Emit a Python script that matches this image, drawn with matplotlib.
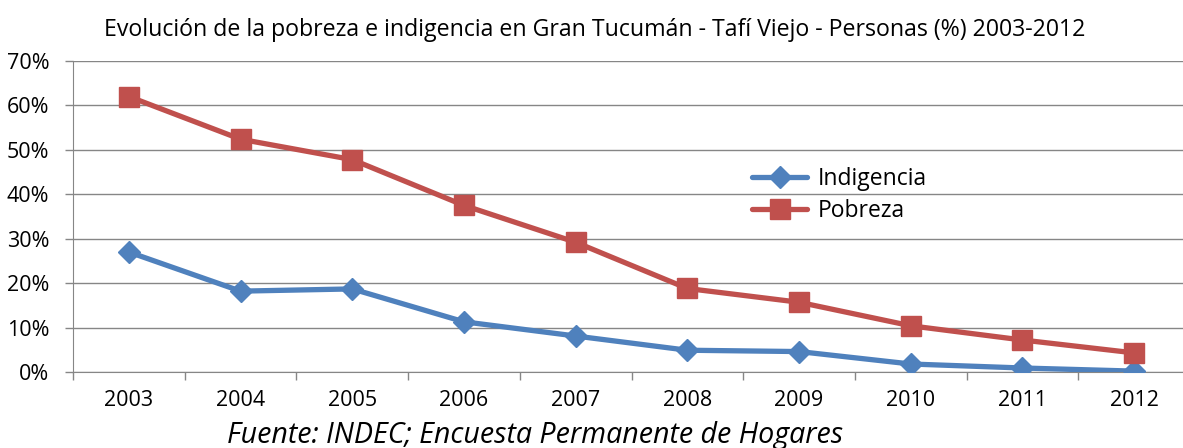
import matplotlib
matplotlib.use("Agg")
import matplotlib.pyplot as plt
from matplotlib.ticker import FixedLocator, PercentFormatter

# %% Data
years = ["2003", "2004", "2005", "2006", "2007", "2008", "2009", "2010", "2011", "2012"]
indigencia = [27.0, 18.2, 18.7, 11.3, 8.1, 4.9, 4.6, 1.8, 0.9, 0.2]
pobreza = [62.0, 52.4, 47.8, 37.5, 29.2, 18.8, 15.7, 10.4, 7.2, 4.3]

plt.rcParams["font.family"] = ["Open Sans", "DejaVu Sans"]

W, H = 1183, 448
fig = plt.figure(figsize=(W / 100, H / 100), dpi=100)
left, right, top, bottom = 73, W, 61, 372
ax = fig.add_axes([left / W, 1 - bottom / H, (right - left) / W, (bottom - top) / H])

x = range(len(years))
ax.plot(x, indigencia, color="#4F81BD", lw=3.8, marker="D", ms=11,
        solid_capstyle="round", label="Indigencia", zorder=3)
ax.plot(x, pobreza, color="#C0504D", lw=3.8, marker="s", ms=14,
        solid_capstyle="round", label="Pobreza", zorder=3)

ax.set_ylim(0, 70)
ax.set_yticks(range(0, 71, 10))
ax.yaxis.set_major_formatter(PercentFormatter(decimals=0))
cat_w = (right - left) / 111.7
ax.set_xlim(-0.5, -0.5 + cat_w)
ax.set_xticks(list(x))
ax.set_xticklabels(years)
ax.xaxis.set_minor_locator(FixedLocator([i - 0.5 for i in range(11)]))
ax.tick_params(axis="x", which="major", length=0, pad=13, labelsize=15.5)
ax.tick_params(axis="x", which="minor", length=6, color="#868686", width=1)
ax.tick_params(axis="y", length=6, color="#868686", width=1, labelsize=15.5, pad=11)

ax.grid(axis="y", color="#868686", lw=1)
ax.set_axisbelow(True)
for s in ["top", "right"]:
    ax.spines[s].set_visible(False)
for s in ["left", "bottom"]:
    ax.spines[s].set_color("#868686")

ax.legend(loc="upper left", bbox_to_anchor=(752 / W, 1 - 167 / H), bbox_transform=fig.transFigure,
          frameon=False, fontsize=16.5, handlelength=2.4, labelspacing=0.35,
          handletextpad=0.45, borderpad=0, borderaxespad=0)

fig.text(595 / W, 1 - 30 / H, "Evolución de la pobreza e indigencia en Gran Tucumán - Tafí Viejo - Personas (%) 2003-2012",
         ha="center", va="center", fontsize=16.7)
fig.text(535 / W, 1 - 435 / H, "Fuente: INDEC; Encuesta Permanente de Hogares",
         ha="center", va="center", fontsize=20.6, style="italic")

fig.savefig("out.png", dpi=100)
